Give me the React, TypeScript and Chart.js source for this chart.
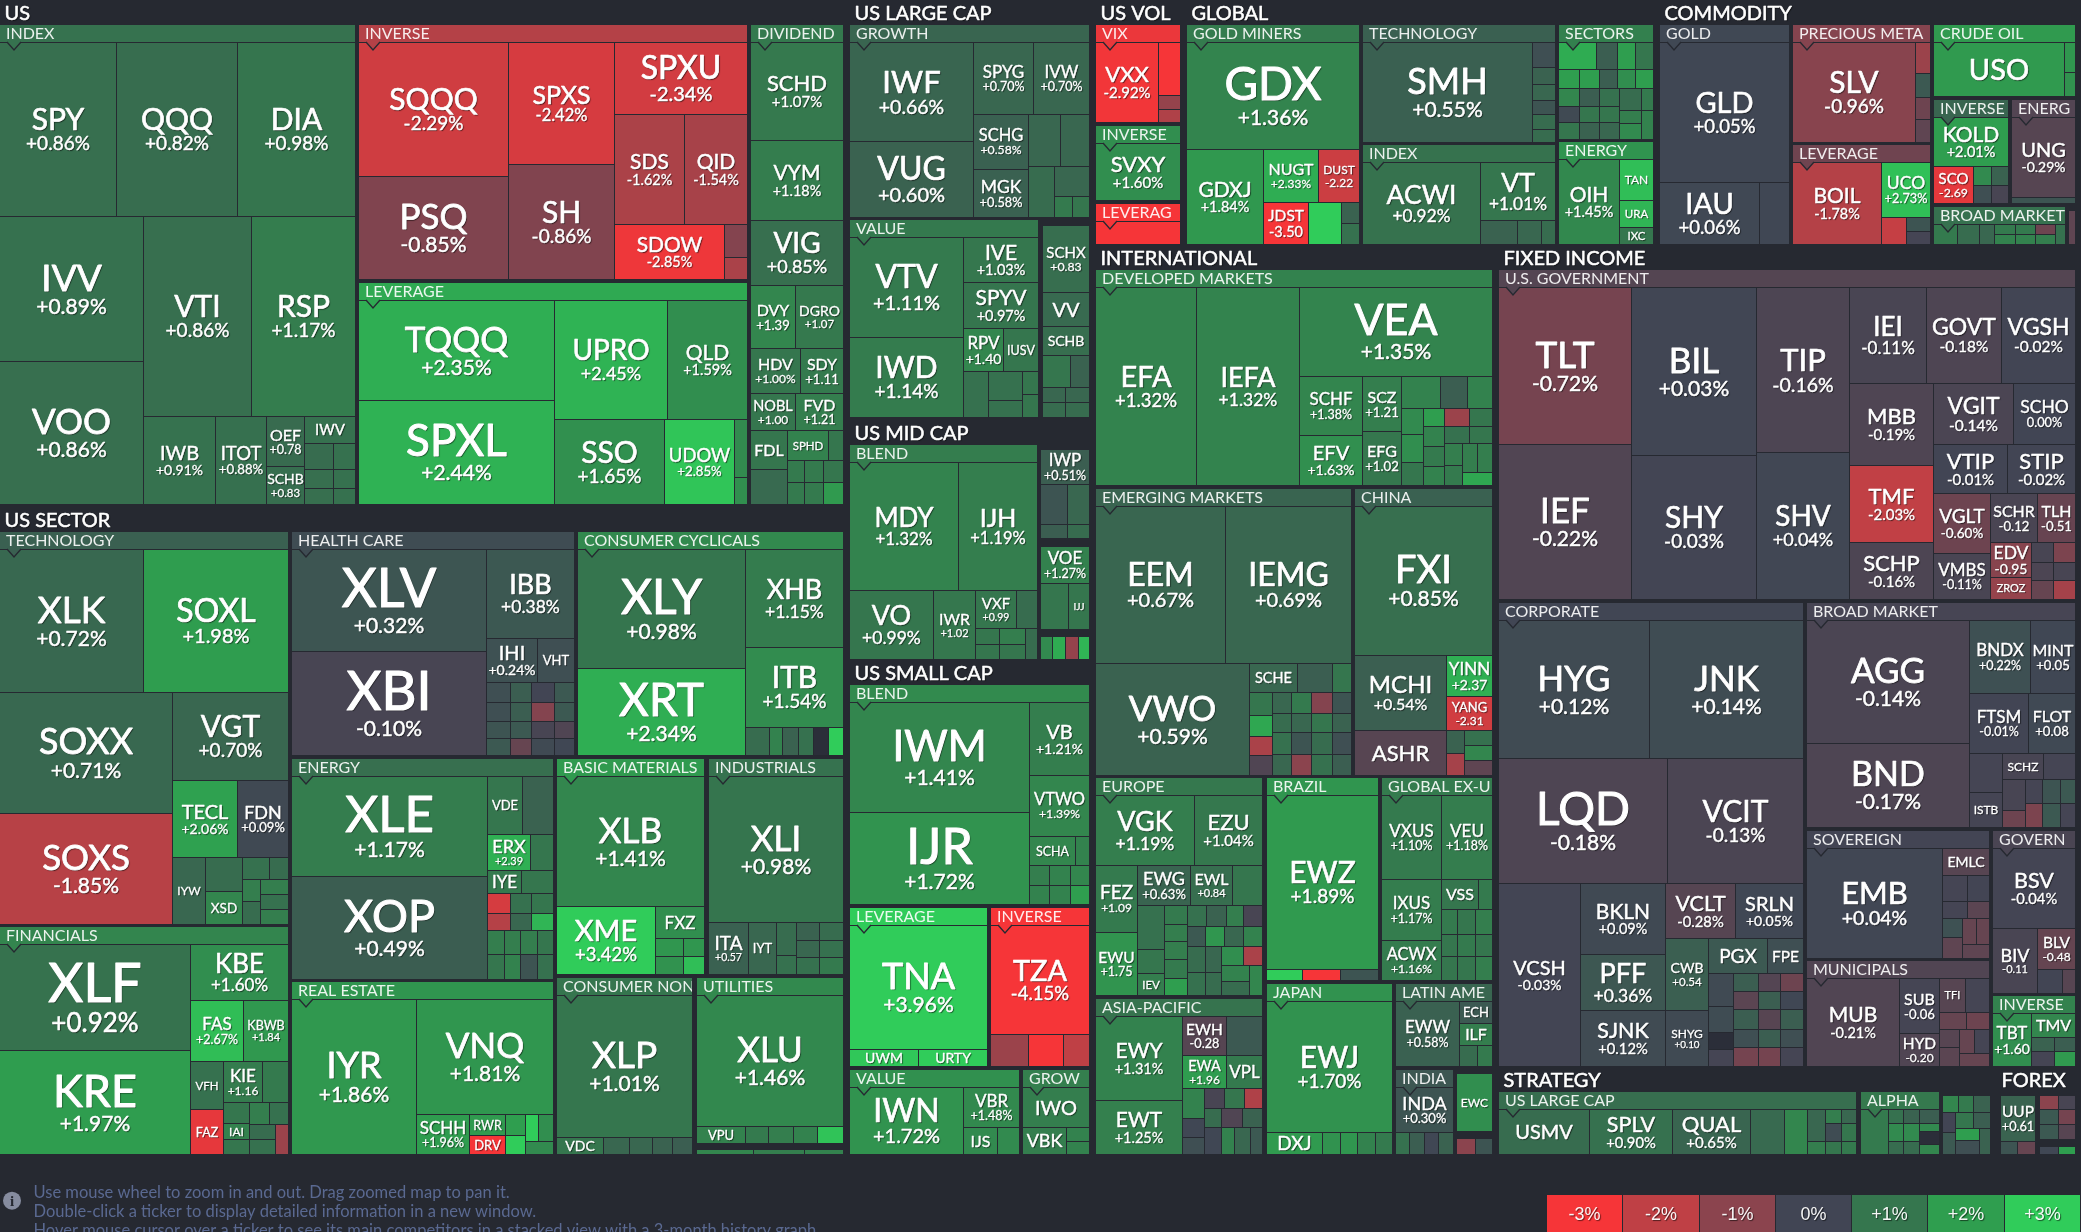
import React, { useEffect, useRef } from "react";
import { Chart, DatasetController, Element, LinearScale, registerables } from "chart.js";

// ---------- tree helpers: every length-like number below is a relative share (weight) among siblings ----------
type N = any;
const T = (t: string, p: number | null, w: number, m?: string): N => ({ t, p, w, m });
const U = (p: number | null, w: number): N => ({ t: "", p, w });
const H = (w: number, ...k: N[]): N => ({ dir: "h", w, k });
const V = (w: number, ...k: N[]): N => ({ dir: "v", w, k });
const G = (title: string, dir: string, w: number, ...k: N[]): N => ({ title, dir, w, k, group: true, head: 18 });
const B = (head: number, dir: string, w: number, ...k: N[]): N => ({ title: "", dir, w, k, group: true, bare: true, head });
const S = (title: string, head: number, dir: string, w: number, ...k: N[]): N => ({ title, dir, w, k, section: true, head });

// ---------- US ----------
const US_INDEX = G("INDEX", "v", 355,
  H(174, T("SPY", 0.86, 117), T("QQQ", 0.82, 120), T("DIA", 0.98, 118)),
  H(287,
    V(144, T("IVV", 0.89, 144), T("VOO", 0.86, 143)),
    V(211,
      H(199, T("VTI", 0.86, 107), T("RSP", 1.17, 104)),
      H(88, T("IWB", 0.91, 71), T("ITOT", 0.88, 51),
        V(38, T("OEF", 0.78, 50, "n"), T("SCHB", 0.83, 38, "n")),
        V(51, T("IWV", 0.9, 27, "x"),
          H(26, U(0.8, 29), U(0.9, 22)), H(19, U(0.85, 29), U(0.9, 22)), H(16, U(0.85, 29), U(0.9, 22)))))));
const US_INVERSE = G("INVERSE", "h", 254,
  V(149, T("SQQQ", -2.29, 133), T("PSQ", -0.85, 103)),
  V(106, T("SPXS", -2.42, 121), T("SH", -0.86, 115)),
  V(132, T("SPXU", -2.34, 72),
    H(109, T("SDS", -1.62, 70), T("QID", -1.54, 62)),
    H(55, T("SDOW", -2.85, 109), V(23, U(-0.9, 33), U(-1.6, 22)))));
const US_LEVERAGE = G("LEVERAGE", "h", 221,
  V(194.5, T("TQQQ", 2.35, 100), T("SPXL", 2.44, 103)),
  V(192.5,
    H(119, T("UPRO", 2.45, 113), T("QLD", 1.59, 80)),
    H(84, T("SSO", 1.65, 110), T("UDOW", 2.85, 70), V(13, U(1.5, 57), U(1.6, 27)))));
const US_DIVIDEND = G("DIVIDEND", "v", 92,
  T("SCHD", 1.07, 98), T("VYM", 1.18, 80), T("VIG", 0.85, 64),
  H(63, T("DVY", 1.39, 45, "n"), T("DGRO", 1.07, 47, "n")),
  H(45, T("HDV", 1.0, 49), T("SDY", 1.11, 43, "n")),
  H(37, T("NOBL", 1.0, 45, "n"), T("FVD", 1.21, 47, "n")),
  H(74,
    V(36.5, T("FDL", 1.0, 39, "x"), U(0.75, 35)),
    V(55.5, H(30, T("SPHD", 1.3, 40, "x"), U(1.0, 15)),
      H(22, U(1.1, 17), U(1.1, 18.5), U(1.0, 20)),
      H(22, U(1.1, 17), U(1.1, 18.5), U(1.9, 20)))));

// ---------- US SECTOR ----------
const SEC_TECH = G("TECHNOLOGY", "v", 392,
  H(142.5, T("XLK", 0.72, 143), T("SOXL", 1.98, 144.5)),
  H(231.5,
    V(172.5, T("SOXX", 0.71, 121), T("SOXS", -1.85, 110)),
    V(115, T("VGT", 0.7, 88),
      H(77, T("TECL", 2.06, 64.5), T("FDN", 0.09, 50.5)),
      H(66, T("IYW", 0.7, 32.5, "x"),
        V(37, U(0.8, 33.5), T("XSD", 1.4, 32.5, "x")),
        V(45.5, H(21, U(0.9, 26.6), U(0.8, 19)),
          H(45, V(17.6, U(1.2, 22), U(0.8, 23)), V(27.9, U(1.2, 15), U(0.9, 15), U(1.2, 15))))))));
const SEC_FIN = G("FINANCIALS", "h", 227,
  V(190, T("XLF", 0.92, 106), T("KRE", 1.97, 104)),
  V(97.5, T("KBE", 1.6, 56),
    H(61, T("FAS", 2.67, 53), T("KBWB", 1.84, 44.5, "n")),
    H(93,
      V(33, T("VFH", 0.9, 48, "x"), T("FAZ", -2.7, 45, "x")),
      V(64.5, H(41, T("KIE", 1.16, 39.5, "n"), U(1.1, 25)),
        H(52, V(26, U(1.0, 21), T("IAI", 1.3, 16, "x"), U(1.0, 15)),
          V(38.5, H(22, U(1.2, 19.6), U(0.9, 19)),
            H(30, V(25.5, U(0.8, 15), U(0.9, 15)), U(-1.3, 13))))))));
const SEC_HEALTH = G("HEALTH CARE", "h", 282,
  V(194.4, T("XLV", 0.32, 101.5), T("XBI", -0.1, 103.5)),
  V(87.6, T("IBB", 0.38, 88),
    H(44, T("IHI", 0.24, 51), T("VHT", 0.2, 37, "x")),
    H(73,
      V(24, U(0.2, 20.6), U(0.2, 18.4), U(0.3, 17), U(0.4, 17)),
      V(21, U(0.5, 20.6), U(0.5, 18.4), U(0.4, 17), U(-0.5, 17)),
      V(22.6, U(-0.02, 20.6), U(-0.9, 18.4), U(-0.1, 17), U(0.1, 17)),
      V(20.4, U(0.4, 20.6), U(0.4, 18.4), U(-0.2, 17), U(0.05, 17)))));
const SEC_CYCL = G("CONSUMER CYCLICALS", "h", 264.4,
  V(167, T("XLY", 0.98, 118), T("XRT", 2.34, 87)),
  V(97.4, T("XHB", 1.15, 97), T("ITB", 1.54, 79.6),
    H(28.4, U(0.8, 23.6), U(1.3, 13.4), U(0.6, 15), U(0.9, 15), U(null, 15), U(3, 15))));
const SEC_ENERGY = G("ENERGY", "h", 220,
  V(195.5, T("XLE", 1.17, 100), T("XOP", 0.49, 102)),
  V(65.5,
    H(58, T("VDE", 1.0, 34.5, "x"), U(0.6, 31)),
    H(36, T("ERX", 2.39, 42.5, "n"), U(1.0, 23)),
    H(22.4, T("IYE", 1.1, 33.2, "x"), U(1.0, 32.3)),
    H(19.6, U(-2.4, 22.5), U(0.9, 21.4), U(1.0, 21.6)),
    H(17.6, U(-1.8, 22.5), U(0.7, 21.4), U(2.5, 21.6)),
    H(24, U(1.2, 16.5), U(1.2, 16), U(1.2, 17.5), U(1.0, 15.5)),
    H(24, U(1.0, 16.5), U(1.3, 16), U(0.3, 17.5), U(0.9, 15.5))));
const SEC_REAL = G("REAL ESTATE", "h", 172,
  T("IYR", 1.86, 125),
  V(136, T("VNQ", 1.81, 114.6),
    H(39.4, T("SCHH", 1.96, 52),
      V(36.4, T("RWR", 1.9, 20, "x"), T("DRV", -3.0, 19, "x")),
      V(19.6, U(2, 20), U(3, 19)),
      V(28, H(26, U(3, 13), U(1.6, 15)), U(1.5, 13)))));
const SEC_BASIC = G("BASIC MATERIALS", "v", 146.5,
  T("XLB", 1.41, 130),
  H(67.5, T("XME", 3.42, 97.5),
    V(49, T("FXZ", 1.6, 31.6, "x"), H(18, U(1.8, 28), U(1.8, 21)), H(18, U(1.7, 28), U(2.7, 21)))));
const SEC_INDUS = G("INDUSTRIALS", "v", 134,
  T("XLI", 0.98, 145.4),
  H(52.1, T("ITA", 0.57, 40, "n"), T("IYT", 0.7, 28, "x"),
    V(19.4, U(0.8, 33), U(0.9, 19.5)),
    V(46.6, H(18, U(0.6, 22.6), U(0.8, 24)), H(17, U(0.7, 23), U(0.9, 24)), H(17.5, U(0.9, 23), U(1.1, 24)))));
const SEC_NONCYC = G("CONSUMER NON", "v", 134.5,
  T("XLP", 1.01, 141),
  H(17, T("VDC", 1.0, 46.5, "x"), U(0.7, 25.6), U(0.7, 22.2), U(0.6, 20.2), U(0.5, 20)));
const SEC_UTIL = G("UTILITIES", "v", 165,
  T("XLU", 1.46, 130),
  H(17, T("VPU", 1.3, 48.7, "x"), U(1.1, 23.3), U(1.2, 24), U(1.3, 24.5), U(2.8, 25.5)));
const SEC_UTIL_TAIL = B(3, "h", 7, U(1.4, 57), U(1.2, 50), U(1.3, 39));

// ---------- US LARGE / MID / SMALL ----------
const LC_GROWTH = G("GROWTH", "h", 192,
  V(123, T("IWF", 0.66, 99), T("VUG", 0.6, 75)),
  V(115, H(72, T("SPYG", 0.7, 59), T("IVW", 0.7, 56)),
    H(102, V(55, T("SCHG", 0.58, 54), T("MGK", 0.58, 48)),
      V(60, H(51, U(0.7, 31), U(0.7, 29)),
        H(51, U(0.8, 25), V(35, U(0.7, 30), H(21, U(1.1, 18), U(1.0, 17))))))));
const LC_VALUE = G("VALUE", "h", 187.5,
  V(113, T("VTV", 1.11, 99), T("IWD", 1.14, 80)),
  V(74.5, T("IVE", 1.03, 45), T("SPYV", 0.97, 45),
    H(43, T("RPV", 1.4, 39.5, "n"), T("IUSV", 1.0, 35, "x")),
    H(46, U(0.9, 24.5), V(33.5, U(0.9, 29), U(0.9, 17)), V(16.5, U(1.0, 23), U(1.0, 23)))));
const LC_OTHER = B(6, "v", 46,
  T("SCHX", 0.83, 66, "n"), T("VV", 0.75, 34, "x"), T("SCHB", 0.83, 29, "x"),
  H(32, U(1.0, 27.6), U(0.6, 18.4)), H(15, U(0.7, 23), U(0.7, 23)), H(15, U(0.8, 23), U(0.8, 23)));
const MC_BLEND = G("BLEND", "v", 186.4,
  H(127, T("MDY", 1.32, 108), T("IJH", 1.19, 78.4)),
  H(69, T("VO", 0.99, 83), T("IWR", 1.02, 42, "n"),
    V(61.4, H(38.4, T("VXF", 0.99, 41, "n"), U(0.8, 20)),
      H(30.6, V(24, U(1.0, 16), U(1.0, 15)), V(25.6, U(1.2, 16), U(1.0, 15)), U(0.8, 11.8)))));
const MC_A = B(5, "v", 93, T("IWP", 0.51, 35), H(39, U(0.3, 26), U(0.7, 22)), H(14, U(0.5, 26), U(0.8, 22)));
const MC_B = B(5, "v", 87, T("VOE", 1.27, 37), H(45, U(1.0, 27), T("IJJ", 1.0, 21, "x")));
const MC_C = B(5, "h", 27, U(1.5, 12), U(2.3, 13), U(-1.2, 12.5), U(2.5, 10.5));
const SC_BLEND = G("BLEND", "h", 219,
  V(178.6, T("IWM", 1.41, 109), T("IJR", 1.72, 92)),
  V(59.4, T("VB", 1.21, 72), T("VTWO", 1.39, 61),
    H(29, T("SCHA", 1.4, 45.4, "x"), U(1.3, 14)),
    H(19.6, U(1.2, 19.4), U(1.3, 21.6), U(1.4, 18.4)),
    H(19.4, U(1.3, 19.4), U(1.3, 21.6), U(2.0, 18.4))));
const SC_LEV = G("LEVERAGE", "v", 136.4, T("TNA", 3.96, 123), H(17, T("UWM", 2.9, 68, "x"), T("URTY", 3.8, 68.4, "x")));
const SC_INV = G("INVERSE", "v", 97, T("TZA", -4.15, 108), H(32, U(-1.3, 36.5), U(-3.0, 35), U(-2.0, 25.5)));
const SC_VALUE = G("VALUE", "h", 168, T("IWN", 1.72, 113), V(55, T("VBR", 1.48, 39), H(27, T("IJS", 1.5, 33.4, "x"), U(1.5, 21.6))));
const SC_GROW = G("GROW", "v", 66, T("IWO", 1.2, 39, "x"), H(27, T("VBK", 1.2, 43, "x"), V(23, U(1.3, 14), U(1.3, 13))));

// ---------- US VOL / GLOBAL / COMMODITY ----------
const VOL_VIX = G("VIX", "h", 97, T("VXX", -2.92, 62), V(22, U(-3.0, 52), U(-1.2, 14), U(-1.7, 13)));
const VOL_INV = G("INVERSE", "v", 74.3, T("SVXY", 1.6, 57));
const VOL_LEV = G("LEVERAG", "v", 39.8, U(-3.0, 22));
const GL_MINERS = G("GOLD MINERS", "v", 171.6,
  T("GDX", 1.36, 106),
  H(94, T("GDXJ", 1.84, 77),
    V(94.6, H(52.7, T("NUGT", 2.33, 54.6), T("DUST", -2.22, 40, "n")),
      H(41.3, T("JDST", -3.5, 44, "n"), U(3.0, 33), V(17.6, U(0.6, 20.7), U(0.9, 20.6))))));
const GL_TECH = G("TECHNOLOGY", "h", 116.7,
  T("SMH", 0.55, 169),
  V(23, U(0.2, 25), U(0.6, 17), U(0.7, 15), U(0.3, 14), U(0.8, 15), U(0.8, 12.7)));
const GL_INDEX = G("INDEX", "h", 98.8,
  T("ACWI", 0.92, 117),
  V(75, T("VT", 1.01, 57), H(23, U(0.6, 37), U(0.7, 23.7), U(0.8, 14.3))));
const GL_SECTORS = G("SECTORS", "v", 113.5,
  H(26.6, U(2.3, 37), U(0.5, 21), U(2.0, 17.7), U(1.0, 17.7)),
  H(19.2, U(2.0, 20), U(2.0, 20), U(0.5, 17.7), U(1.6, 18), U(2.0, 17.7)),
  H(49.7,
    V(20.7, U(1.4, 17), U(0.1, 16), U(1.0, 16)),
    V(19.2, U(0.5, 17), U(1.0, 16), U(0.6, 16)),
    V(19.6, U(0.9, 17), U(1.0, 16), U(0.7, 16)),
    V(21.9, U(0.8, 21), U(1.2, 13), U(1.5, 15)),
    V(12, U(1.1, 21), U(1.3, 28))));
const GL_ENERGY = G("ENERGY", "h", 101.4,
  T("OIH", 1.45, 59.6),
  V(34, T("TAN", 2.7, 40, "x"), T("URA", 2.5, 27, "x"), T("IXC", 1.0, 16, "x")));
const CM_GOLD = G("GOLD", "v", 129, T("GLD", 0.05, 139.5), H(61.3, T("IAU", 0.06, 99.5), U(0.05, 29.5)));
const CM_PREC = G("PRECIOUS META", "h", 116.6,
  T("SLV", -0.96, 121.6),
  V(15, U(-1.3, 31), U(0.4, 23), U(-0.6, 22.4), U(-0.4, 22.2)));
const CM_LEV = G("LEVERAGE", "h", 98.4,
  T("BOIL", -1.78, 88),
  V(49, T("UCO", 2.73, 54), H(27, U(-2.1, 25.5), V(23.5, U(0.3, 13.8), U(-0.05, 13.2)))));
const CM_CRUDE = G("CRUDE OIL", "h", 71.4, T("USO", 1.9, 130, "x"), V(11, U(1.8, 29.7), U(1.7, 23.7)));
const CM_INV = G("INVERSE", "v", 73.6,
  T("KOLD", 2.01, 49),
  H(36.6, T("SCO", -2.69, 39, "n"), V(35, H(18.6, U(1.5, 18.3), U(0.6, 16.7)), H(18, U(0.2, 18.3), U(-0.1, 16.7)))));
const CM_ENERG = G("ENERG", "v", 62.6, T("UNG", -0.29, 79.5), U(0.3, 6));
const CM_BROAD = G("BROAD MARKET", "h", 130.6,
  U(1.1, 23), U(0.8, 22.2), U(0.7, 15),
  V(20.7, U(1.1, 10), U(1.3, 10)), V(19.6, U(1.1, 10), U(1.3, 10)), V(20, U(-0.6, 10), U(1.2, 10)), U(0.9, 9.8));
const CM_TAIL = B(4, "h", 5.7, U(-0.4, 5.7));

// ---------- INTERNATIONAL ----------
const IN_DEV = G("DEVELOPED MARKETS", "h", 215,
  T("EFA", 1.32, 101), T("IEFA", 1.32, 102),
  V(193, T("VEA", 1.35, 88.7),
    H(109.3,
      V(63, T("SCHF", 1.38, 59.7), T("EFV", 1.63, 49.6)),
      V(39.4, T("SCZ", 1.21, 55, "n"), T("EFG", 1.02, 54, "n")),
      V(90.6,
        H(32.7, U(1.3, 38.6), U(0.5, 27.5), U(1.3, 24.5)),
        H(76.3,
          V(21.6, U(1.5, 25), U(1.6, 27.7), U(1.0, 23.3)),
          V(21.6, U(2.0, 17.7), U(1.3, 19.3), U(1.1, 19.7), U(1.3, 19.3)),
          V(47.4, H(17.7, U(-1.3, 24), U(1.0, 23.4)), H(16.3, U(0.9, 24), U(1.0, 23.4)),
            H(42, V(18, U(1.2, 22), U(1.1, 20)),
              V(29.5, H(28.7, U(1.2, 15), U(1.2, 14.5)), U(2.2, 13.3)))))))));
const IN_EM = G("EMERGING MARKETS", "v", 255.4,
  H(157.5, T("EEM", 0.67, 129.7), T("IEMG", 0.69, 125.7)),
  H(111.5, T("VWO", 0.59, 153.3),
    V(102,
      H(29, T("SCHE", 0.7, 47.7, "x"), U(0.5, 35), U(1.0, 19.3)),
      H(82,
        V(22.7, U(1.0, 23), U(2.2, 20), U(-1.6, 19.6), U(-0.2, 19.4)),
        V(19.7, U(0.7, 20.7), U(0.8, 18.9), U(0.9, 21.4), U(0.7, 21)),
        V(19.3, U(1.1, 20.7), U(0.7, 18.9), U(0.3, 21.4), U(-1.0, 21)),
        V(21, U(-0.9, 20.7), U(1.0, 18.9), U(0.8, 21.4), U(0.9, 21)),
        V(19, U(0.3, 20.7), U(0.6, 18.9), U(0.2, 21.4), U(0.5, 21))))));
const IN_CHINA = G("CHINA", "v", 136.7,
  T("FXI", 0.85, 149),
  H(120,
    V(90.7, T("MCHI", 0.54, 75), T("ASHR", -0.3, 45, "x")),
    V(46, T("YINN", 2.37, 41.6, "n"), T("YANG", -2.31, 33.4, "n"),
      H(45, V(18, U(0.6, 23), U(-1.5, 22)), V(28, U(0.9, 15), U(1.4, 15), U(-0.4, 15))))));
const IN_EUROPE = G("EUROPE", "v", 216.3,
  H(69, T("VGK", 1.19, 98), T("EZU", 1.04, 68)),
  H(130,
    V(41.3, T("FEZ", 1.09, 66.6, "n"), T("EWU", 1.75, 63.4, "n")),
    V(124.7,
      H(40.4, T("EWG", 0.63, 53), T("EWL", 0.84, 42, "n"), U(1.0, 30)),
      H(89.6,
        V(27, U(0.9, 44), U(1.0, 24), T("IEV", 1.2, 22, "x")),
        V(22.7, U(1.1, 19), U(1.2, 17), U(1.2, 18), U(1.1, 18.7), U(2.0, 17.3)),
        V(75,
          H(20, U(0.9, 19), U(0.6, 19.7), U(1.2, 17.3), U(-0.1, 19)),
          H(20, U(0.4, 17.7), U(1.8, 19), U(0.7, 19), U(1.3, 19.3)),
          H(49, V(17.7, U(0.8, 25.8), U(0.9, 23.2)), V(15.7, U(0.7, 25.8), U(0.8, 23.2)),
            V(41.3, H(19, U(1.6, 22.3), U(-1.6, 19)),
              H(30, V(28.3, U(1.3, 16), U(0.8, 14)), U(1.4, 13)))))))));
const IN_ASIA = G("ASIA-PACIFIC", "h", 154.6,
  V(86, T("EWY", 1.31, 83.8), T("EWT", 1.25, 53.2)),
  V(80,
    H(39, T("EWH", -0.28, 43.7, "n"), U(0.4, 36.3)),
    H(33, T("EWA", 1.96, 43.7, "n"), T("VPL", 1.1, 36.3, "x")),
    H(65,
      V(22.3, U(1.3, 29.3), U(0.05, 19.3), U(0.2, 16.4)),
      V(57.7,
        H(19.6, U(-0.1, 19.7), U(1.0, 19.7), U(-1.7, 18.3)),
        H(18.9, U(0.8, 16.7), U(-0.2, 21.3), U(0.6, 19.7)),
        H(26.5, U(0.05, 16.7), U(1.3, 13.3), U(0.7, 15.7), U(0.4, 12))))));
const IN_BRAZIL = G("BRAZIL", "v", 111, T("EWZ", 1.89, 173.4), H(11.6, U(3.0, 36.3), U(-3.0, 37.4), U(0.3, 37.3)));
const IN_GLOBAL = G("GLOBAL EX-U", "h", 109.7,
  V(59.4, T("VXUS", 1.1, 83.6), T("IXUS", 1.17, 61.4), T("ACWX", 1.16, 40)),
  V(50.3, T("VEU", 1.18, 83.6),
    H(30, T("VSS", 1.0, 36, "x"), U(1.1, 14.3)),
    H(24.4, U(1.1, 16), U(1.0, 17.3), U(1.2, 17)),
    H(22.6, U(1.0, 16), U(1.1, 17.3), U(1.0, 17)),
    H(24, U(1.0, 16), U(1.0, 17.3), U(1.2, 17))));
const IN_JAPAN = G("JAPAN", "v", 124.7,
  T("EWJ", 1.7, 131),
  H(22, T("DXJ", 1.9, 55.7, "x"), U(1.7, 18), U(1.8, 17), U(1.3, 17.6), U(1.1, 16.4)));
const IN_LATIN = G("LATIN AME", "h", 82.3,
  T("EWW", 0.58, 63.3),
  V(32.7, T("ECH", 0.4, 21.5, "x"), T("ILF", 1.2, 22, "x"), H(21.5, U(0.8, 17.4), U(1.1, 15.3))));
const IN_INDIA = G("INDIA", "v", 57.3, T("INDA", 0.3, 45), H(22, U(0.9, 14), U(0.5, 15), U(0.05, 13.3), U(0.6, 15)));
const IN_EWC = B(4, "v", 60.7, T("EWC", 1.6, 56, "x"));
const IN_TAIL = B(4, "h", 19, U(-1.0, 17.7), U(0.3, 17));

// ---------- FIXED INCOME ----------
const FI_GOV = G("U.S. GOVERNMENT", "h", 329,
  V(132.6, T("TLT", -0.72, 157), T("IEF", -0.22, 155)),
  V(124.5, T("BIL", 0.03, 168.4), T("SHY", -0.03, 143.6)),
  V(93.5, T("TIP", -0.16, 165.3), T("SHV", 0.04, 146.7)),
  V(225,
    H(96.5, T("IEI", -0.11, 76.5), T("GOVT", -0.18, 75), T("VGSH", -0.02, 73.5)),
    H(215.5,
      V(83.6, T("MBB", -0.19, 81.5), T("TMF", -2.03, 77.3), T("SCHP", -0.16, 56.7)),
      V(141.4,
        H(60.5, T("VGIT", -0.14, 79.4), T("SCHO", 0.0, 62)),
        H(49, T("VTIP", -0.01, 73.4), T("STIP", -0.02, 68)),
        H(106,
          V(57, T("VGLT", -0.6, 60), T("VMBS", -0.11, 46)),
          V(84.4,
            H(49.3, T("SCHR", -0.12, 46.7, "n"), T("TLH", -0.51, 37.7, "n")),
            H(56.7,
              V(40.4, T("EDV", -0.95, 34.7, "n"), T("ZROZ", -1.2, 22, "x")),
              V(22.5, U(-0.1, 19.8), U(-0.15, 18), U(-0.5, 19.2)),
              V(21.5, U(-0.8, 19.8), U(-0.1, 18), U(-1.5, 19.2)))))))));
const FI_CORP = G("CORPORATE", "v", 303.5,
  H(138, T("HYG", 0.12, 150.6), T("JNK", 0.14, 152.9)),
  H(125, T("LQD", -0.18, 168.6), T("VCIT", -0.13, 134.9)),
  H(183, T("VCSH", -0.03, 81.6),
    V(84.3, T("BKLN", 0.09, 71.4), T("PFF", 0.36, 56), T("SJNK", 0.12, 55.6)),
    V(137.6,
      H(55, T("VCLT", -0.28, 70), T("SRLN", 0.05, 67.6)),
      H(128,
        V(43.3, T("CWB", 0.54, 72.5, "n"), T("SHYG", 0.1, 55.5, "n")),
        V(94.3,
          H(35, T("PGX", 0.4, 59.2, "x"), T("FPE", 0.2, 35.1, "x")),
          H(93,
            V(25.4, U(0.1, 32.6), U(0.15, 26.4), U(null, 17.5), U(-0.05, 16.5)),
            V(24.4, U(0.5, 18), U(-0.35, 18), U(0.5, 20), U(0.2, 18.4), U(-0.7, 18.6)),
            V(21.8, U(-0.25, 18), U(0.5, 18), U(-0.3, 20), U(0.5, 18.4), U(-0.7, 18.6)),
            V(22.7, U(-0.6, 18), U(0.05, 18), U(0.5, 20), U(0.2, 18.4), U(-0.05, 18.6))))))));
const FI_BROAD = G("BROAD MARKET", "h", 224.5,
  V(162.5, T("AGG", -0.14, 123.6), T("BND", -0.17, 84)),
  V(105.5,
    H(73.6, T("BNDX", 0.22, 60.3), T("MINT", 0.05, 45.2, "n")),
    H(60.2, T("FTSM", -0.01, 58.8), T("FLOT", 0.08, 46.7, "n")),
    H(73.7,
      V(33.1, U(-0.05, 38.2), T("ISTB", -0.05, 35.5, "x")),
      V(72.4,
        H(25.8, T("SCHZ", -0.1, 40.4, "x"), U(-0.05, 32)),
        H(47.9,
          V(22.6, U(-0.1, 30), U(-0.6, 17.5)),
          V(17, U(-0.05, 24), U(-0.8, 23.5)),
          V(17.7, U(0.3, 24), U(0.4, 23.5)),
          V(15.1, U(0.4, 24), U(-0.05, 23.5)))))));
const FI_SOV = G("SOVEREIGN", "h", 126.9,
  T("EMB", 0.04, 135.3),
  V(46.4, T("EMLC", -0.3, 27.4, "x"),
    H(25.6, U(-0.05, 24.5), U(-0.03, 22)),
    H(16.6, U(-0.05, 24.5), U(-0.35, 22)),
    H(40, V(20, U(0.25, 19.3), U(-0.4, 20.4)),
      V(26.4, H(26.3, U(-0.5, 13.9), U(-0.5, 12.5)), U(-0.4, 13.5)))));
const FI_MUNI = G("MUNICIPALS", "h", 104.6,
  T("MUB", -0.21, 92),
  V(40.7, T("SUB", -0.06, 55, "n"), T("HYD", -0.2, 33, "n")),
  V(49,
    H(33.8, T("TFI", -0.3, 25.3, "x"), U(-0.05, 23.7)),
    H(17, U(-0.5, 26), U(-0.6, 23)),
    H(37, V(19.6, U(-0.3, 17.6), U(-0.35, 19.4)),
      V(29.4, H(23.7, U(-0.5, 15), U(-0.05, 14.4)), U(-0.5, 13.3)))));
const FI_GOVERN = G("GOVERN", "v", 161.7,
  T("BSV", -0.04, 79.8),
  H(64.7, T("BIV", -0.11, 44, "n"),
    V(37.8, T("BLV", -0.48, 40.8, "n"), H(23.7, U(-0.02, 24.5), U(-0.3, 13.3)))));
const FI_INV = G("INVERSE", "h", 69.4,
  T("TBT", 1.6, 38.4, "n"),
  V(43.4, T("TMV", 1.4, 23.4, "x"), H(14.3, U(0.6, 22.7), U(0.5, 20.7)), H(15.3, U(-0.05, 22.7), U(1.9, 20.7))));

// ---------- STRATEGY / FOREX ----------
const ST_LARGE = G("US LARGE CAP", "h", 357.4,
  T("USMV", 0.8, 90.6, "x"), T("SPLV", 0.9, 82.8), T("QUAL", 0.65, 78), U(0.75, 34.2), U(1.4, 22.8),
  V(17.7, U(0.7, 32), U(1.2, 13)),
  V(31.3, H(14, U(1.2, 15.5), U(0.7, 15.8)), H(18, U(0.15, 15.5), U(1.0, 15.8)), H(13, U(1.0, 15.5), U(1.1, 15.8))));
const ST_ALPHA = G("ALPHA", "h", 78.3,
  U(1.1, 27.4),
  V(15.5, U(0.9, 14), U(1.5, 18), U(0.8, 13)),
  V(15.4, U(0.6, 14), U(1.5, 18), U(0.8, 13)),
  V(20, U(0.5, 14), U(1.5, 8), U(null, 13), U(1.4, 10)));
const ST_OTHER = B(4, "v", 46.6,
  H(16.3, U(1.4, 15), U(1.1, 14.7), U(0.6, 16.9)),
  H(41, V(12.8, U(-0.02, 19.6), U(0.4, 21.4)),
    V(33.8, H(15.5, U(1.0, 16.9), U(0.5, 16.9)),
      H(25.5, V(22.9, U(2.0, 11.5), U(0.2, 14)), U(0.6, 10.9)))));
const FX_A = B(4, "v", 34, T("UUP", 0.61, 44.3, "n"), H(13, U(0.3, 16.2), U(-0.5, 17.8)));
const FX_B = B(4, "v", 35.4,
  H(13, U(-1.0, 18.8), U(-0.1, 16.6)), H(15, U(0.4, 18.8), U(-0.7, 16.6)), H(14, U(0.4, 18.8), U(-0.3, 16.6)),
  H(7), H(8, U(0.05, 18.8), U(2.0, 16.6)));

// ---------- the whole map ----------
const SEC_US = S("US", 25, "h", 504, US_INDEX, V(387, US_INVERSE, US_LEVERAGE), US_DIVIDEND);
const SEC_SECTOR = S("US SECTOR", 25, "h", 647,
  V(287.5, SEC_TECH, SEC_FIN),
  V(551,
    H(223, SEC_HEALTH, SEC_CYCL),
    H(395,
      V(261, SEC_ENERGY, SEC_REAL),
      V(285.5,
        H(215.5, SEC_BASIC, SEC_INDUS),
        H(176, SEC_NONCYC, V(146, SEC_UTIL, SEC_UTIL_TAIL))))));
const SEC_LARGE = S("US LARGE CAP", 25, "v", 417, LC_GROWTH, H(197, LC_VALUE, LC_OTHER));
const SEC_MID = S("US MID CAP", 25, "h", 239, MC_BLEND, V(48, MC_A, MC_B, MC_C));
const SEC_SMALL = S("US SMALL CAP", 23, "v", 492, SC_BLEND, H(158, SC_LEV, SC_INV), H(84, SC_VALUE, SC_GROW));
const SEC_VOL = S("US VOL", 25, "v", 84, VOL_VIX, VOL_INV, VOL_LEV);
const SEC_GLOBAL = S("GLOBAL", 25, "h", 466, GL_MINERS, V(192, GL_TECH, GL_INDEX), V(93.6, GL_SECTORS, GL_ENERGY));
const SEC_COMM = S("COMMODITY", 25, "h", 415, CM_GOLD, V(136.6, CM_PREC, CM_LEV),
  V(140.6, CM_CRUDE, H(103.6, CM_INV, CM_ENERG), H(37.1, CM_BROAD, CM_TAIL)));
const SEC_INTL = S("INTERNATIONAL", 23, "v", 396, IN_DEV, H(286, IN_EM, IN_CHINA),
  H(375.3,
    V(166, IN_EUROPE, IN_ASIA),
    V(225,
      H(202.3, IN_BRAZIL, IN_GLOBAL),
      H(170.3, IN_JAPAN, V(96, IN_LATIN, H(84, IN_INDIA, V(34.7, IN_EWC, IN_TAIL)))))));
const SEC_FIXED = S("FIXED INCOME", 23, "v", 819, FI_GOV,
  H(463, FI_CORP, V(268, FI_BROAD,
    H(235.2, V(181.7, FI_SOV, FI_MUNI), V(81.8, FI_GOVERN, FI_INV)))));
const SEC_STRATEGY = S("STRATEGY", 23.5, "h", 491, ST_LARGE, ST_ALPHA, ST_OTHER);
const SEC_FOREX = S("FOREX", 23.5, "h", 78, H(0), FX_A, FX_B);
const ROOT = H(2075,
  V(843, SEC_US, SEC_SECTOR),
  V(239, SEC_LARGE, SEC_MID, SEC_SMALL),
  V(979,
    H(243.8, SEC_VOL, SEC_GLOBAL, SEC_COMM),
    H(907.2, SEC_INTL, V(576, SEC_FIXED, H(85, SEC_STRATEGY, SEC_FOREX)))));

// ---------- legend and note ----------
const LEGEND_STEPS = [-3, -2, -1, 0, 1, 2, 3];
const NOTE_LINES = [
  "Use mouse wheel to zoom in and out. Drag zoomed map to pan it.",
  "Double-click a ticker to display detailed information in a new window.",
  "Hover mouse cursor over a ticker to see its main competitors in a stacked view with a 3-month history graph.",
];

// ---------- label styles ----------
const TICKER_FONT: Record<string, number> = {
  SPY: 30, QQQ: 30, DIA: 30, IVV: 37, VOO: 35, VTI: 30, RSP: 30, IWB: 20, ITOT: 18.5, OEF: 16, SCHB: 14, IWV: 15,
  SQQQ: 30, PSQ: 35, SPXS: 25, SH: 30, SPXU: 32, SDS: 21, QID: 21, SDOW: 21, TQQQ: 35, SPXL: 44, UPRO: 28, QLD: 21, SSO: 30, UDOW: 18.5,
  SCHD: 22, VYM: 21, VIG: 28, DVY: 16, DGRO: 14, HDV: 16, SDY: 16, NOBL: 14.5, FVD: 16, FDL: 16, SPHD: 11.5,
  IWF: 31, VUG: 32, SPYG: 17, IVW: 17, SCHG: 16.5, MGK: 17.5, VTV: 32, IWD: 30, IVE: 21, SPYV: 21, RPV: 17, IUSV: 12.5, SCHX: 15, VV: 20,
  MDY: 26, IJH: 25, VO: 27, IWR: 16, VXF: 15, IWP: 17, VOE: 17, IJJ: 10, IWM: 42, IJR: 50, VB: 20, VTWO: 16.5, SCHA: 12.5,
  TNA: 36, TZA: 29, UWM: 14, URTY: 14, IWN: 32, VBR: 17, IJS: 16, IWO: 20, VBK: 18,
  XLK: 37, SOXL: 32, SOXX: 36, VGT: 30, SOXS: 35, TECL: 20, FDN: 18, IYW: 12, XSD: 13.5, XLF: 54, KRE: 45, KBE: 26, FAS: 17, KBWB: 12.5, VFH: 11.5, KIE: 17, FAZ: 12.5, IAI: 12,
  XLV: 54, XBI: 54, IBB: 27, IHI: 20, VHT: 13, XLY: 48, XRT: 46, XHB: 27, ITB: 30, XLE: 51, XOP: 45, VDE: 13, ERX: 18, IYE: 17,
  XLB: 35, XME: 29, FXZ: 17, XLI: 35, ITA: 19, IYT: 13, XLP: 37, XLU: 35, VDC: 14, VPU: 13, IYR: 36, VNQ: 35, SCHH: 17, RWR: 12.5, DRV: 13,
  VXX: 22, SVXY: 22, GDX: 46, GDXJ: 21, NUGT: 16, DUST: 12, JDST: 15.5, SMH: 36, ACWI: 26.5, VT: 26.5, OIH: 21, TAN: 12, URA: 11.5, IXC: 11.5,
  GLD: 29, IAU: 29, SLV: 30, BOIL: 21, UCO: 17.5, USO: 29, KOLD: 21, SCO: 15, UNG: 20,
  TLT: 37, BIL: 35, TIP: 31, IEF: 35, SHY: 30, SHV: 28, IEI: 26, GOVT: 23, VGSH: 23, MBB: 22, VGIT: 23, SCHO: 17.5, VTIP: 22, STIP: 22, TMF: 22, SCHP: 22, VGLT: 19, VMBS: 17, SCHR: 16, TLH: 16, EDV: 17.5, ZROZ: 11,
  HYG: 35, JNK: 35, LQD: 46, VCIT: 30, VCSH: 20, BKLN: 21, PFF: 27, SJNK: 21.5, VCLT: 21.5, SRLN: 20, CWB: 14, SHYG: 12, PGX: 19, FPE: 15.5,
  AGG: 35, BND: 34, BNDX: 17, MINT: 16, FTSM: 17, FLOT: 16, SCHZ: 12, ISTB: 12, EMB: 31, EMLC: 14, BSV: 21.5, BIV: 18, BLV: 15.5, MUB: 21, SUB: 16, HYD: 15.5, TFI: 11, TBT: 17, TMV: 16,
  USMV: 20, SPLV: 21.5, QUAL: 22, UUP: 15.5,
  EFA: 29, IEFA: 27, VEA: 43, SCHF: 17, SCZ: 16, EFV: 20, EFG: 16, EEM: 32, IEMG: 32, VWO: 35, SCHE: 14.5, FXI: 38, MCHI: 24, ASHR: 22, YINN: 17, YANG: 13,
  VGK: 27, EZU: 22, FEZ: 19, EWG: 18, EWL: 16, EWU: 15.5, IEV: 11.5, EWY: 21, EWT: 21, EWH: 15.5, EWA: 14.5, VPL: 17, EWZ: 30, EWJ: 30, DXJ: 19,
  VXUS: 17, VEU: 17, IXUS: 17, ACWX: 16.5, VSS: 16, EWW: 17, ECH: 13, ILF: 16, INDA: 18, EWC: 12,
};
const PCT_FONT: Record<string, number> = {
  XLF: 26, ERX: 11, KIE: 12, KBWB: 11, VXF: 10.5, IWR: 11, ITA: 10.5, BIV: 11, BLV: 12, HYD: 12, FEZ: 12, EWL: 11, EWU: 12.5,
  EWA: 12, FVD: 12.5, YANG: 12, DUST: 12, JDST: 14.5, OEF: 12.5,
};
const FONT_FAMILY = "Lato, sans-serif";
const PAGE_BG = "#262931";
const COLOR_STOPS: [number, number[]][] = [
  [-3, [246, 53, 56]], [-2, [191, 64, 69]], [-1, [139, 68, 78]], [0, [65, 69, 84]],
  [1, [53, 118, 78]], [2, [47, 158, 79]], [3, [48, 204, 90]],
];

function colorOf(p: number | null): string {
  if (p === null) return "#2b2e39";
  const v = Math.max(-3, Math.min(3, p));
  for (let i = 0; i < COLOR_STOPS.length - 1; i++) {
    const [a, ca] = COLOR_STOPS[i];
    const [b, cb] = COLOR_STOPS[i + 1];
    if (v <= b) {
      const f = (v - a) / (b - a);
      return `rgb(${ca.map((c, j) => Math.round(c + (cb[j] - c) * f)).join(",")})`;
    }
  }
  return "#30cc5a";
}

// ---------- layout in scale units ----------
function hasKind(n: N, key: string): boolean {
  if (!n.k) return false;
  return !!n[key] || n.k.some((c: N) => hasKind(c, key));
}
function layoutTree(root: N) {
  const cells: any[] = [], heads: any[] = [], chevrons: any[] = [], titles: any[] = [];
  const walk = (n: N, x0: number, y0: number, x1: number, y1: number): { area: number; sum: number } => {
    if (!n.k) {
      cells.push({ x: x0, y: y0, x2: x1, y2: y1, kind: "cell", t: n.t, pct: n.p, mode: n.m });
      const a = (x1 - x0) * (y1 - y0);
      return { area: n.p === null ? 0 : a, sum: n.p === null ? 0 : a * n.p };
    }
    let cx0 = x0, cy0 = y0, cx1 = x1, cy1 = y1;
    if (n.section) {
      titles.push({ x: x0, y: y0 + n.head, x2: x1, y2: y0 + n.head, kind: "title", t: n.title });
      cy0 += n.head;
    } else if (n.group) {
      cy0 += n.head;
      cx1 += 1;
      cy1 += 1;
    }
    const kids = n.k;
    const horizontal = n.dir === "h";
    const sec = kids.some((c: N) => hasKind(c, "section"));
    const grp = kids.some((c: N) => hasKind(c, "group"));
    const gap = sec ? (horizontal ? 7 : 3) : grp ? (horizontal ? 4.3 : 3.5) : 0;
    const total = kids.reduce((s: number, c: N) => s + c.w, 0) || 1;
    const span = (horizontal ? cx1 - cx0 : cy1 - cy0) - gap * (kids.length - 1);
    let pos = horizontal ? cx0 : cy0;
    let area = 0, sum = 0;
    kids.forEach((c: N) => {
      const len = (span * c.w) / total;
      const r = horizontal ? walk(c, pos, cy0, pos + len, cy1) : walk(c, cx0, pos, cx1, pos + len);
      area += r.area;
      sum += r.sum;
      pos += len + gap;
    });
    if (n.group && !n.bare) {
      heads.push({ x: x0, y: y0, x2: x1, y2: y0 + n.head - 1, kind: "head", t: n.title, pct: area ? sum / area : 0 });
      chevrons.push({ x: x0, y: y0 + n.head, x2: x1, y2: y0 + n.head, kind: "chevron", pct: area ? sum / area : 0 });
    }
    return { area, sum };
  };
  walk(root, 0, 0, root.w, 1154);
  return { cells, heads, chevrons, titles };
}

// ---------- custom Chart.js element + controller ----------
function fitFont(t: string, w: number, h: number): number {
  return TICKER_FONT[t] ?? Math.max(9, Math.min(h * 0.4, (w * 0.6) / (t.length * 0.62)));
}
function pctText(p: number, mode?: string): string {
  const s = (p > 0 ? "+" : p < 0 ? "-" : "") + Math.abs(p).toFixed(2);
  return mode === "n" ? s : s + "%";
}
function setShadow(ctx: CanvasRenderingContext2D, on: boolean) {
  ctx.shadowColor = on ? "rgba(0,0,0,0.6)" : "transparent";
  ctx.shadowOffsetX = on ? 1 : 0;
  ctx.shadowOffsetY = on ? 1 : 0;
  ctx.shadowBlur = on ? 1 : 0;
}
function boldText(ctx: CanvasRenderingContext2D, s: string, x: number, y: number, size: number) {
  ctx.fillText(s, x, y);
  ctx.strokeStyle = ctx.fillStyle as string;
  ctx.lineJoin = "round";
  ctx.lineWidth = Math.max(0.25, size * 0.022);
  ctx.shadowColor = "transparent";
  ctx.strokeText(s, x, y);
}

class MapCell extends Element {
  static id = "mapcell";
  static defaults = {};
  draw(ctx: CanvasRenderingContext2D) {
    const e: any = this;
    const d = e.raw;
    const x0 = Math.round(e.px0), x1 = Math.round(e.px1), y0 = Math.round(e.py0), y1 = Math.round(e.py1);
    ctx.save();
    if (d.kind === "cell") {
      const w = x1 - x0 - 1, h = y1 - y0 - 1;
      ctx.fillStyle = colorOf(d.pct);
      ctx.fillRect(x0, y0, w, h);
      if (d.t) {
        const f = fitFont(d.t, w, h);
        const showPct = d.mode !== "x";
        const pf = PCT_FONT[d.t] ?? (d.mode === "n" ? Math.min(14, f * 0.82) : Math.min(21, 4 + 0.5 * f));
        const cap = f * 0.72;
        const off = showPct ? pf * 1.07 + Math.max(0, (f - 30) * 0.12) : 0;
        const base = y0 + h / 2 + (cap - off) / 2;
        ctx.textAlign = "center";
        ctx.textBaseline = "alphabetic";
        ctx.fillStyle = "#ffffff";
        setShadow(ctx, true);
        ctx.font = `${f}px ${FONT_FAMILY}`;
        boldText(ctx, d.t, x0 + w / 2, base, f);
        if (showPct) {
          setShadow(ctx, true);
          ctx.font = `${pf}px ${FONT_FAMILY}`;
          boldText(ctx, pctText(d.pct, d.mode), x0 + w / 2, base + off, pf);
        }
      }
    } else if (d.kind === "head") {
      ctx.fillStyle = colorOf(d.pct);
      ctx.fillRect(x0, y0, x1 - x0, y1 - y0);
      ctx.beginPath();
      ctx.rect(x0, y0, x1 - x0, y1 - y0);
      ctx.clip();
      ctx.font = `16px ${FONT_FAMILY}`;
      ctx.textAlign = "left";
      ctx.fillStyle = "rgba(255,255,255,0.9)";
      ctx.fillText(d.t, x0 + 6, y0 + 14);
    } else if (d.kind === "chevron") {
      ctx.beginPath();
      ctx.moveTo(x0 + 7, y0 - 1);
      ctx.lineTo(x0 + 14, y0 + 7);
      ctx.lineTo(x0 + 21, y0 - 1);
      ctx.fillStyle = colorOf(d.pct);
      ctx.fill();
      ctx.strokeStyle = PAGE_BG;
      ctx.lineWidth = 1.3;
      ctx.stroke();
    } else if (d.kind === "title") {
      ctx.font = `20px ${FONT_FAMILY}`;
      ctx.textAlign = "left";
      ctx.fillStyle = "#ffffff";
      setShadow(ctx, true);
      boldText(ctx, d.t, x0 + 4.5, y0 - 5, 24);
    } else if (d.kind === "legend") {
      ctx.fillStyle = colorOf(d.pct);
      ctx.fillRect(x0, y0, x1 - x0, y1 - y0);
      ctx.font = `18px "Liberation Sans", Arial, sans-serif`;
      ctx.textAlign = "center";
      ctx.fillStyle = "rgba(255,255,255,0.95)";
      setShadow(ctx, true);
      ctx.fillText(d.t, (x0 + x1) / 2, y0 + 25);
    }
    ctx.restore();
  }
}

class MapController extends DatasetController {
  static id = "treemapcells";
  static defaults = { dataElementType: "mapcell", datasetElementType: false };
  static overrides = { scales: { x: { type: "linear" }, y: { type: "linear" } } };
  update(mode: any) {
    const meta: any = this._cachedMeta;
    this.updateElements(meta.data, 0, meta.data.length, mode);
  }
  updateElements(rects: any[], start: number, count: number, _mode: any) {
    const { x, y } = this.chart.scales;
    const data: any[] = this.getDataset().data as any[];
    for (let i = start; i < start + count; i++) {
      const d = data[i];
      Object.assign(rects[i], {
        raw: d,
        x: x.getPixelForValue(d.x),
        y: y.getPixelForValue(d.y),
        px0: x.getPixelForValue(d.x),
        px1: x.getPixelForValue(d.x2),
        py0: y.getPixelForValue(d.y),
        py1: y.getPixelForValue(d.y2),
        options: {},
      });
    }
  }
  draw() {
    const ctx = this.chart.ctx;
    (this._cachedMeta.data as any[]).forEach((el) => el.draw(ctx));
  }
}

const notePlugin = {
  id: "mapNote",
  afterDraw(chart: any) {
    const { ctx, scales } = chart;
    ctx.save();
    const ix = scales.x.getPixelForValue(12), iy = scales.y.getPixelForValue(1200.7);
    ctx.fillStyle = "#868c9f";
    ctx.beginPath();
    ctx.arc(ix, iy, 9, 0, Math.PI * 2);
    ctx.fill();
    ctx.fillStyle = PAGE_BG;
    ctx.font = `bold 15px "Liberation Serif", "DejaVu Serif", serif`;
    ctx.textAlign = "center";
    ctx.fillText("i", ix, iy + 5.5);
    ctx.font = `16.5px ${FONT_FAMILY}`;
    ctx.textAlign = "left";
    ctx.fillStyle = "#5a6991";
    NOTE_LINES.forEach((line, i) => {
      ctx.fillText(line, scales.x.getPixelForValue(33.5), scales.y.getPixelForValue(1198 + i * 19));
    });
    ctx.restore();
  },
};

Chart.register(...registerables, MapCell, MapController as any, LinearScale);

export default function App() {
  const ref = useRef<HTMLCanvasElement>(null);
  useEffect(() => {
    document.body.style.margin = "0";
    document.body.style.background = PAGE_BG;
    document.body.style.overflow = "hidden";
    const { cells, heads, chevrons, titles } = layoutTree(ROOT);
    const legendWidth = 76.3;
    const legend = LEGEND_STEPS.map((s, i) => ({
      x: 2081 - legendWidth * (LEGEND_STEPS.length - i),
      x2: 2081 - legendWidth * (LEGEND_STEPS.length - i - 1) - 1,
      y: 1195,
      y2: 1232,
      kind: "legend",
      pct: s,
      t: s === 0 ? "0%" : (s > 0 ? "+" : "-") + Math.abs(s) + "%",
    }));
    const chart = new Chart(ref.current as HTMLCanvasElement, {
      type: "treemapcells" as any,
      data: {
        datasets: [
          { label: "Chevrons", data: chevrons, order: 0, parsing: false },
          { label: "Tickers", data: cells, order: 1, parsing: false },
          { label: "Groups", data: heads, order: 2, parsing: false },
          { label: "Sections", data: titles, order: 3, parsing: false },
          { label: "Legend", data: legend, order: 4, parsing: false },
        ] as any,
      },
      options: {
        animation: false,
        responsive: false,
        devicePixelRatio: 1,
        layout: { padding: 0 },
        events: [],
        plugins: { legend: { display: false }, tooltip: { enabled: false } },
        scales: {
          x: { type: "linear", min: 0, max: 2081, display: false },
          y: { type: "linear", min: 0, max: 1232, reverse: true, display: false },
        },
      } as any,
      plugins: [notePlugin],
    });
    return () => chart.destroy();
  }, []);
  return (
    <div style={{ position: "absolute", left: 0, top: 0, width: 2081, height: 1232, background: PAGE_BG, overflow: "hidden" }}>
      <canvas ref={ref} width={2081} height={1232} style={{ display: "block" }} />
    </div>
  );
}
